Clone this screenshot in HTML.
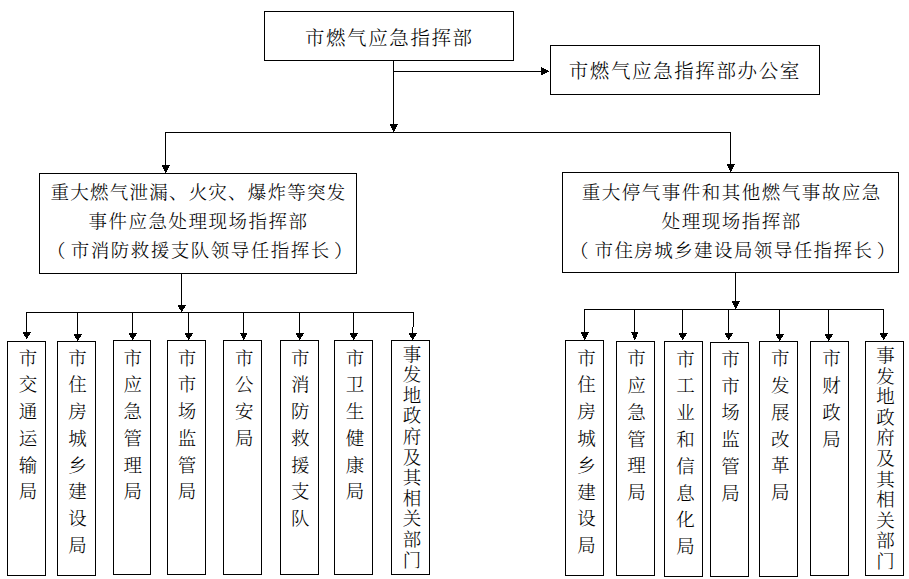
<!DOCTYPE html>
<html lang="zh-CN">
<head>
<meta charset="utf-8">
<title>市燃气应急指挥部组织体系</title>
<style>
html,body{margin:0;padding:0;background:#fff}
body{width:909px;height:579px;position:relative;overflow:hidden;font-family:"Liberation Serif","Noto Serif CJK SC",serif;color:#000;font-weight:300}
.t{position:absolute;white-space:nowrap;height:30px;overflow:visible}
.t .c{position:absolute;left:0;top:0;transform:translateX(-50%);white-space:nowrap}
.v{position:absolute;width:30px;text-align:center;word-break:break-all;overflow-wrap:anywhere;white-space:normal}
.lp{position:absolute;right:100%;top:0}
.rp{position:absolute;left:100%;top:0}
</style>
</head>
<body>
<svg width="909" height="579" viewBox="0 0 909 579" shape-rendering="crispEdges" style="position:absolute;left:0;top:0">
<path d="M264 11h250v1h-250zM264 60h250v1h-250zM264 11h1v50h-1zM513 11h1v50h-1zM550 45h270v1h-270zM550 94h270v1h-270zM550 45h1v50h-1zM819 45h1v50h-1zM393 61h1v71h-1zM390 124h8v1h-8zM390 125h7v1h-7zM391 126h6v1h-6zM391 127h5v1h-5zM392 128h4v1h-4zM392 129h3v1h-3zM393 130h2v1h-2zM393 131h1v1h-1zM393 71h150v1h-150zM541 67h1v8h-1zM542 68h1v7h-1zM543 68h1v6h-1zM544 69h1v5h-1zM545 69h1v4h-1zM546 70h1v3h-1zM547 70h1v2h-1zM548 71h1v1h-1zM165 132h566v1h-566zM165 132h1v37h-1zM162 165h8v1h-8zM162 166h7v1h-7zM163 167h6v1h-6zM163 168h5v1h-5zM164 169h4v1h-4zM164 170h3v1h-3zM165 171h2v1h-2zM165 172h1v1h-1zM730 132h1v36h-1zM727 164h8v1h-8zM727 165h7v1h-7zM728 166h6v1h-6zM728 167h5v1h-5zM729 168h4v1h-4zM729 169h3v1h-3zM730 170h2v1h-2zM730 171h1v1h-1zM39 173h318v1h-318zM39 273h318v1h-318zM39 173h1v101h-1zM356 173h1v101h-1zM562 172h337v1h-337zM562 272h337v1h-337zM562 172h1v101h-1zM898 172h1v101h-1zM181 274h1v35h-1zM178 305h8v1h-8zM178 306h7v1h-7zM179 307h6v1h-6zM179 308h5v1h-5zM180 309h3v1h-3zM181 310h2v1h-2zM181 311h1v1h-1zM26 312h388v1h-388zM7 341h39v1h-39zM7 575h39v1h-39zM7 341h1v235h-1zM45 341h1v235h-1zM26 312h1v24h-1zM23 332h8v1h-8zM23 333h7v1h-7zM24 334h6v1h-6zM24 335h5v1h-5zM25 336h3v1h-3zM26 337h2v1h-2zM26 338h1v1h-1zM57 341h39v1h-39zM57 575h39v1h-39zM57 341h1v235h-1zM95 341h1v235h-1zM77 312h1v26h-1zM74 334h8v1h-8zM74 335h7v1h-7zM75 336h6v1h-6zM75 337h5v1h-5zM76 338h3v1h-3zM77 339h2v1h-2zM77 340h1v1h-1zM113 340h38v1h-38zM113 574h38v1h-38zM113 340h1v235h-1zM150 340h1v235h-1zM132 312h1v25h-1zM129 333h8v1h-8zM129 334h7v1h-7zM130 335h6v1h-6zM130 336h5v1h-5zM131 337h3v1h-3zM132 338h2v1h-2zM132 339h1v1h-1zM167 340h39v1h-39zM167 574h39v1h-39zM167 340h1v235h-1zM205 340h1v235h-1zM188 312h1v25h-1zM185 333h8v1h-8zM185 334h7v1h-7zM186 335h6v1h-6zM186 336h5v1h-5zM187 337h3v1h-3zM188 338h2v1h-2zM188 339h1v1h-1zM223 340h39v1h-39zM223 574h39v1h-39zM223 340h1v235h-1zM261 340h1v235h-1zM243 312h1v25h-1zM240 333h7v1h-7zM241 334h6v1h-6zM241 335h5v1h-5zM242 336h4v1h-4zM242 337h3v1h-3zM243 338h2v1h-2zM243 339h1v1h-1zM280 340h39v1h-39zM280 574h39v1h-39zM280 340h1v235h-1zM318 340h1v235h-1zM299 312h1v25h-1zM296 333h8v1h-8zM296 334h7v1h-7zM297 335h6v1h-6zM297 336h5v1h-5zM298 337h3v1h-3zM299 338h2v1h-2zM299 339h1v1h-1zM334 340h39v1h-39zM334 574h39v1h-39zM334 340h1v235h-1zM372 340h1v235h-1zM353 312h1v25h-1zM350 333h8v1h-8zM350 334h7v1h-7zM351 335h6v1h-6zM351 336h5v1h-5zM352 337h3v1h-3zM353 338h2v1h-2zM353 339h1v1h-1zM391 340h39v1h-39zM391 574h39v1h-39zM391 340h1v235h-1zM429 340h1v235h-1zM413 312h1v15h-1zM412 327h1v10h-1zM409 333h8v1h-8zM409 334h7v1h-7zM410 335h6v1h-6zM410 336h5v1h-5zM411 337h3v1h-3zM412 338h2v1h-2zM412 339h1v1h-1zM735 273h1v33h-1zM732 301h8v1h-8zM732 302h7v1h-7zM733 303h6v1h-6zM733 304h5v1h-5zM734 305h4v1h-4zM734 306h3v1h-3zM735 307h2v1h-2zM735 308h1v1h-1zM584 309h300v1h-300zM565 340h39v1h-39zM565 575h39v1h-39zM565 340h1v236h-1zM603 340h1v236h-1zM584 309h1v28h-1zM581 332h8v1h-8zM581 333h7v1h-7zM582 334h6v1h-6zM582 335h5v1h-5zM583 336h4v1h-4zM583 337h3v1h-3zM584 338h2v1h-2zM584 339h1v1h-1zM616 341h39v1h-39zM616 575h39v1h-39zM616 341h1v235h-1zM654 341h1v235h-1zM634 309h1v28h-1zM631 332h7v1h-7zM632 333h6v1h-6zM632 334h5v1h-5zM633 335h4v1h-4zM633 336h4v1h-4zM633 337h3v1h-3zM634 338h2v1h-2zM634 339h1v1h-1zM664 341h39v1h-39zM664 576h39v1h-39zM664 341h1v236h-1zM702 341h1v236h-1zM682 309h1v28h-1zM679 333h8v1h-8zM679 334h7v1h-7zM680 335h6v1h-6zM680 336h5v1h-5zM681 337h3v1h-3zM682 338h2v1h-2zM682 339h1v1h-1zM710 342h39v1h-39zM710 576h39v1h-39zM710 342h1v235h-1zM748 342h1v235h-1zM728 309h1v28h-1zM725 333h8v1h-8zM725 334h7v1h-7zM726 335h6v1h-6zM726 336h5v1h-5zM727 337h3v1h-3zM728 338h2v1h-2zM728 339h1v1h-1zM759 341h39v1h-39zM759 576h39v1h-39zM759 341h1v236h-1zM797 341h1v236h-1zM779 309h1v29h-1zM776 334h8v1h-8zM776 335h7v1h-7zM777 336h6v1h-6zM777 337h5v1h-5zM778 338h3v1h-3zM779 339h2v1h-2zM779 340h1v1h-1zM810 341h39v1h-39zM810 575h39v1h-39zM810 341h1v235h-1zM848 341h1v235h-1zM828 309h1v29h-1zM825 334h8v1h-8zM825 335h7v1h-7zM826 336h6v1h-6zM826 337h5v1h-5zM827 338h3v1h-3zM828 339h2v1h-2zM828 340h1v1h-1zM865 341h39v1h-39zM865 575h39v1h-39zM865 341h1v235h-1zM903 341h1v235h-1zM883 309h1v28h-1zM880 333h8v1h-8zM880 334h7v1h-7zM881 335h6v1h-6zM881 336h5v1h-5zM882 337h3v1h-3zM883 338h2v1h-2zM883 339h1v1h-1z" fill="#000"/>
</svg>
<div class="t" style="left:389.3px;top:23.5px;width:0;font-size:19.5px;letter-spacing:1.6px;line-height:30px"><span class="c">市燃气应急指挥部</span></div>
<div class="t" style="left:684.8px;top:57px;width:0;font-size:19.5px;letter-spacing:1.6px;line-height:30px"><span class="c">市燃气应急指挥部办公室</span></div>
<div class="t" style="left:198.5px;top:178px;width:0;font-size:18.5px;letter-spacing:1.22px;line-height:30px"><span class="c">重大燃气泄漏、火灾、爆炸等突发</span></div>
<div class="t" style="left:198.5px;top:207px;width:0;font-size:18.5px;letter-spacing:1.5px;line-height:30px"><span class="c">事件应急处理现场指挥部</span></div>
<div class="t" style="left:200.75px;top:236px;width:0;font-size:18.5px;letter-spacing:1.5px;line-height:30px"><span class="c"><span class="lp" style="margin-right:3.7px">（</span>市消防救援支队领导任指挥长<span class="rp" style="margin-left:3.35px">）</span></span></div>
<div class="t" style="left:731.75px;top:178px;width:0;font-size:18.5px;letter-spacing:1.5px;line-height:30px"><span class="c">重大停气事件和其他燃气事故应急</span></div>
<div class="t" style="left:731.75px;top:207px;width:0;font-size:18.5px;letter-spacing:1.5px;line-height:30px"><span class="c">处理现场指挥部</span></div>
<div class="t" style="left:733.95px;top:236px;width:0;font-size:18.5px;letter-spacing:1.42px;line-height:30px"><span class="c"><span class="lp" style="margin-right:4.6px">（</span>市住房城乡建设局领导任指挥长<span class="rp" style="margin-left:3.3px">）</span></span></div>
<div class="v" style="left:12.9px;top:345.5px;font-size:18.5px;line-height:26.8px">市交通运输局</div>
<div class="v" style="left:62.5px;top:345.5px;font-size:18.5px;line-height:26.8px">市住房城乡建设局</div>
<div class="v" style="left:117.75px;top:345.5px;font-size:18.5px;line-height:26.8px">市应急管理局</div>
<div class="v" style="left:171.9px;top:345.5px;font-size:18.5px;line-height:26.8px">市市场监管局</div>
<div class="v" style="left:229.2px;top:345.5px;font-size:18.5px;line-height:26.8px">市公安局</div>
<div class="v" style="left:285.2px;top:345.5px;font-size:18.5px;line-height:26.8px">市消防救援支队</div>
<div class="v" style="left:339.9px;top:345.5px;font-size:18.5px;line-height:26.8px">市卫生健康局</div>
<div class="v" style="left:397px;top:344.6px;font-size:18.5px;line-height:20.6px">事发地政府及其相关部门</div>
<div class="v" style="left:571.5px;top:345.7px;font-size:18.5px;line-height:26.8px">市住房城乡建设局</div>
<div class="v" style="left:621.5px;top:346.3px;font-size:18.5px;line-height:26.8px">市应急管理局</div>
<div class="v" style="left:670.5px;top:346.7px;font-size:18.5px;line-height:26.8px">市工业和信息化局</div>
<div class="v" style="left:715.5px;top:346.9px;font-size:18.5px;line-height:26.8px">市市场监管局</div>
<div class="v" style="left:765.2px;top:346.3px;font-size:18.5px;line-height:26.8px">市发展改革局</div>
<div class="v" style="left:816.5px;top:346.3px;font-size:18.5px;line-height:26.8px">市财政局</div>
<div class="v" style="left:870.5px;top:346px;font-size:18.5px;line-height:20.6px">事发地政府及其相关部门</div>
</body>
</html>
